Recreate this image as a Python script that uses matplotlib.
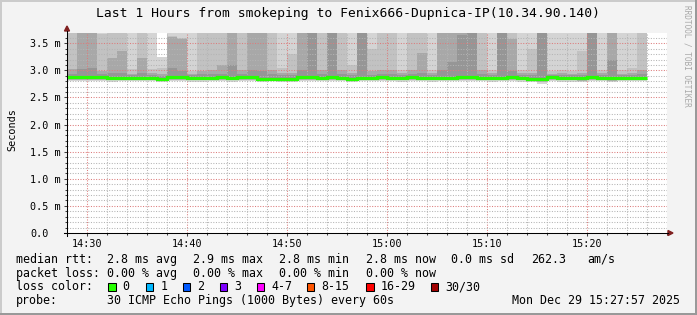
import matplotlib
matplotlib.use('Agg')
import matplotlib.pyplot as plt
from matplotlib.patches import Rectangle, Polygon
from matplotlib.lines import Line2D
from matplotlib.transforms import Affine2D
import numpy as np

W, H = 697, 315
plt.rcParams['font.family'] = ['DejaVu Sans Mono']

title = 'Last 1 Hours from smokeping to Fenix666-Dupnica-IP(10.34.90.140)'

# one column per minute, first column at 14:28 (minutes after 14:00)
start_min = 28

# median rtt per minute (ms)
median = [2.87, 2.87, 2.87, 2.87, 2.86, 2.855, 2.855, 2.86, 2.86, 2.85,
          2.87, 2.87, 2.865, 2.86, 2.86, 2.87, 2.86, 2.87, 2.88, 2.85,
          2.85, 2.84, 2.85, 2.87, 2.875, 2.86, 2.88, 2.86, 2.85, 2.86,
          2.86, 2.87, 2.86, 2.86, 2.88, 2.86, 2.855, 2.86, 2.855, 2.875,
          2.875, 2.86, 2.86, 2.86, 2.875, 2.86, 2.84, 2.85, 2.87, 2.865,
          2.86, 2.86, 2.87, 2.865, 2.86, 2.86, 2.86, 2.86]
# smoke: ping quantiles per minute (ms), values above the top are clipped
ping_min = [2.81, 2.80, 2.81, 2.81, 2.79, 2.80, 2.81, 2.80, 2.80, 2.78,
            2.80, 2.81, 2.79, 2.79, 2.80, 2.80, 2.79, 2.80, 2.81, 2.79,
            2.80, 2.78, 2.79, 2.80, 2.80, 2.80, 2.81, 2.80, 2.79, 2.80,
            2.80, 2.81, 2.80, 2.79, 2.80, 2.80, 2.79, 2.80, 2.80, 2.81,
            2.80, 2.80, 2.79, 2.80, 2.80, 2.79, 2.78, 2.75, 2.80, 2.79,
            2.79, 2.78, 2.80, 2.80, 2.78, 2.80, 2.80, 2.80]
p25 = [2.83, 2.83, 2.83, 2.83, 2.82, 2.82, 2.83, 2.82, 2.83, 2.81,
       2.83, 2.83, 2.82, 2.82, 2.83, 2.83, 2.82, 2.83, 2.83, 2.82,
       2.82, 2.81, 2.82, 2.83, 2.83, 2.83, 2.83, 2.83, 2.82, 2.83,
       2.83, 2.83, 2.83, 2.82, 2.83, 2.83, 2.82, 2.83, 2.82, 2.83,
       2.83, 2.83, 2.82, 2.83, 2.83, 2.82, 2.80, 2.79, 2.83, 2.82,
       2.82, 2.81, 2.83, 2.83, 2.81, 2.83, 2.83, 2.83]
p60 = [2.94, 3.02, 3.05, 2.93, 2.95, 2.95, 2.91, 2.95, 2.91, 2.90,
       3.04, 2.98, 2.91, 2.93, 2.93, 2.93, 3.10, 2.93, 3.00, 2.98,
       2.93, 2.92, 2.92, 3.00, 3.90, 2.93, 3.90, 2.93, 2.92, 3.90,
       2.92, 2.93, 2.93, 2.91, 2.93, 2.95, 2.91, 3.00, 3.15, 3.65,
       3.90, 2.93, 2.91, 3.90, 2.98, 2.91, 2.92, 3.90, 2.91, 2.91,
       2.91, 2.92, 3.90, 2.91, 3.20, 2.91, 2.91, 2.93]
p75 = [3.02, 4.00, 4.00, 2.98, 3.23, 3.35, 2.94, 3.23, 2.95, 2.94,
       3.62, 3.58, 2.94, 2.98, 3.00, 3.10, 4.00, 3.00, 4.00, 4.00,
       3.00, 2.96, 2.96, 4.00, 4.20, 3.00, 4.20, 3.00, 2.96, 4.20,
       2.98, 3.00, 3.00, 2.95, 3.00, 3.32, 2.95, 4.00, 4.00, 4.20,
       4.20, 3.00, 2.95, 4.20, 3.58, 2.95, 2.96, 4.20, 2.94, 2.95,
       2.94, 2.96, 4.20, 2.95, 4.00, 2.94, 2.95, 3.00]
p90 = [4.00, 4.50, 4.50, 3.67, 4.00, 4.00, 3.02, 4.00, 3.02, 3.04,
       3.64, 3.60, 2.98, 4.00, 4.00, 4.00, 4.50, 4.00, 4.50, 4.50,
       4.00, 3.05, 3.30, 4.50, 4.50, 4.00, 4.50, 4.00, 3.10, 4.50,
       3.40, 4.00, 4.00, 3.00, 4.00, 4.00, 3.00, 4.50, 4.50, 4.50,
       4.50, 4.00, 3.00, 4.50, 4.00, 3.00, 3.40, 4.50, 2.98, 3.00,
       2.98, 3.35, 4.50, 3.00, 4.50, 3.00, 3.05, 4.00]
ping_max = [4.5, 5.0, 5.0, 4.5, 4.5, 4.5, 4.2, 4.5, 4.2, 3.25,
            5.0, 5.0, 4.2, 4.5, 4.5, 4.5, 5.0, 4.5, 5.0, 5.0,
            4.5, 4.2, 4.2, 5.0, 5.0, 4.5, 5.0, 4.5, 4.2, 5.0,
            4.2, 4.5, 4.5, 4.2, 4.5, 4.5, 4.2, 5.0, 5.0, 5.0,
            5.0, 4.5, 4.2, 5.0, 4.5, 4.2, 4.2, 5.0, 4.2, 4.2,
            4.2, 4.2, 5.0, 4.2, 5.0, 4.2, 4.2, 4.5]

y_top = 3.69
y_ticks = [0.0, 0.5, 1.0, 1.5, 2.0, 2.5, 3.0, 3.5]
y_labels = ['0.0', '0.5 m', '1.0 m', '1.5 m', '2.0 m', '2.5 m', '3.0 m', '3.5 m']
x_ticks = [30, 40, 50, 60, 70, 80]
x_labels = ['14:30', '14:40', '14:50', '15:00', '15:10', '15:20']

legend_rows = [
    [(16, 'median rtt:'), (107, '2.8 ms avg'), (193, '2.9 ms max'), (279, '2.8 ms min'),
     (366, '2.8 ms now'), (451, '0.0 ms sd'), (531, '262.3'), (587, 'am/s')],
    [(16, 'packet loss:'), (107, '0.00 % avg'), (193, '0.00 % max'), (279, '0.00 % min'),
     (366, '0.00 % now')],
]
loss_labels = ['0', '1', '2', '3', '4-7', '8-15', '16-29', '30/30']
loss_colors = ['#26ff00', '#00b8ff', '#0059ff', '#7e00ff', '#ff00ff', '#ff5500', '#ff0000', '#a00000']
loss_box_x = [108, 145.5, 182.5, 219.5, 256.5, 306.5, 366, 430.5]
probe_text = '30 ICMP Echo Pings (1000 Bytes) every 60s'
stamp = 'Mon Dec 29 15:27:57 2025'

fig = plt.figure(figsize=(W / 100, H / 100), dpi=100, facecolor='#f3f3f3')
# pixel coords, origin top left
pix = Affine2D().scale(1 / W, -1 / H).translate(0, 1) + fig.transFigure

ax = fig.add_axes([67 / W, (H - 233) / H, 600 / W, 200 / H])
ax.set_facecolor('white')
ax.set_xlim(28, 88)
ax.set_ylim(0, y_top)
for s in ax.spines.values():
    s.set_visible(False)

minutes = np.arange(start_min, start_min + len(median))
bands = [(ping_min, p25, '#d6d6d6'), (p25, median, '#b0b0b0'), (median, p60, '#969696'),
         (p60, p75, '#a8a8a8'), (p75, p90, '#c2c2c2'), (p90, ping_max, '#d4d4d4')]
for lower, upper, c in bands:
    lower = np.array(lower)
    upper = np.array(upper)
    ax.bar(minutes, upper - lower, bottom=lower, width=1.0, align='edge',
           color=c, linewidth=0, antialiased=False, zorder=1)

edges = np.append(minutes, minutes[-1] + 1)
ax.stairs(median, edges, baseline=None, color=loss_colors[0], linewidth=2.3, zorder=4)

# grid
ax.set_xticks(x_ticks)
ax.set_xticklabels(x_labels)
ax.set_xticks(np.arange(28, 89, 2), minor=True)
ax.set_yticks(y_ticks)
ax.set_yticklabels(y_labels)
ax.set_yticks(np.arange(0, 3.65, 0.1), minor=True)
ax.set_axisbelow(False)
ax.grid(which='minor', color='#b4b4b4', linestyle=(0, (1, 1.5)), linewidth=0.75)
ax.grid(which='major', color='#dc7c7c', linestyle=(0, (1, 1.5)), linewidth=0.75)
ax.tick_params(which='both', colors='#404040', width=0.75, labelcolor='black', labelsize=7.3)
ax.tick_params(axis='x', which='major', length=2, pad=2.0)
ax.tick_params(axis='x', which='minor', length=1.5)
ax.tick_params(axis='y', which='major', length=2, pad=24.6)
ax.tick_params(axis='y', which='minor', length=1.5)
for lab in ax.get_yticklabels():
    lab.set_horizontalalignment('left')

# axes lines and arrows
fig.add_artist(Line2D([64, 668], [233, 233], color='black', lw=0.75, transform=pix))
fig.add_artist(Line2D([67, 67], [236, 31], color='black', lw=0.75, transform=pix))
fig.add_artist(Polygon([[668, 230.5], [673, 233], [668, 235.5]], closed=True,
                       color='#7f1f1f', transform=pix))
fig.add_artist(Polygon([[64.5, 31], [67, 26], [69.5, 31]], closed=True,
                       color='#7f1f1f', transform=pix))

fig.text(348.5, 14, title, transform=pix, ha='center', va='center', fontsize=9.4)
fig.text(12, 130, 'Seconds', transform=pix, ha='center', va='center', rotation=90, fontsize=7.3)
fig.text(687, 5, 'RRDTOOL / TOBI OETIKER', transform=pix, ha='center', va='top',
         rotation=270, fontsize=5.6, color='#a8a8a8')

row_y = [259.5, 273.2, 287, 300.7]
for row, y in zip(legend_rows, row_y):
    for x, t in row:
        fig.text(x, y, t, transform=pix, ha='left', va='center', fontsize=8.4)
fig.text(16, row_y[2], 'loss color:', transform=pix, ha='left', va='center', fontsize=8.4)
for bx, lab, c in zip(loss_box_x, loss_labels, loss_colors):
    fig.add_artist(Rectangle((bx, row_y[2] - 3.8), 7.5, 7.5, facecolor=c, edgecolor='black',
                             linewidth=0.75, transform=pix))
    fig.text(bx + 14.7, row_y[2], lab, transform=pix, ha='left', va='center', fontsize=8.4)
fig.text(16, row_y[3], 'probe:', transform=pix, ha='left', va='center', fontsize=8.4)
fig.text(107, row_y[3], probe_text, transform=pix, ha='left', va='center', fontsize=8.4)
fig.text(680, row_y[3], stamp, transform=pix, ha='right', va='center', fontsize=8.4)

# 3d frame
fig.add_artist(Rectangle((0, 0), W, 2, color='#cbcbcb', lw=0, transform=pix))
fig.add_artist(Rectangle((0, 0), 2, H, color='#cbcbcb', lw=0, transform=pix))
fig.add_artist(Rectangle((0, H - 2), W, 2, color='#999999', lw=0, transform=pix))
fig.add_artist(Rectangle((W - 2, 0), 2, H, color='#999999', lw=0, transform=pix))

fig.savefig('out.png', dpi=100, facecolor=fig.get_facecolor())
